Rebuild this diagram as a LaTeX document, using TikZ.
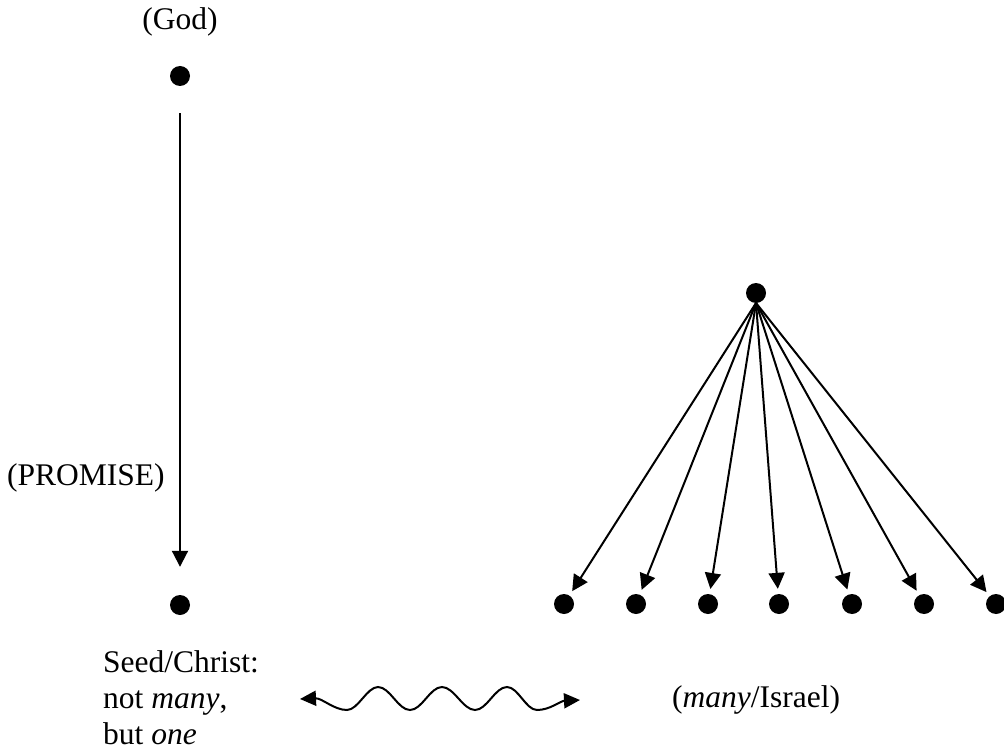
\documentclass[tikz,border=0pt]{standalone}
\usepackage{fontspec}
\setmainfont{Liberation Serif}
\usetikzlibrary{arrows.meta}
\begin{document}
\begin{tikzpicture}[x=1pt,y=-1pt,
  dot/.style={circle,fill=black,inner sep=0pt,minimum size=20pt},
  lbl/.style={inner sep=0pt,font=\fontsize{31.5}{36}\selectfont},
  arr/.style={line width=2pt,-{Triangle[length=16pt,width=16pt]}},
  wave/.style={line width=2pt,{Triangle[length=16pt,width=15pt]}-{Triangle[length=16pt,width=15pt]}}]
\useasboundingbox (0,0) rectangle (1004,754);

% the promise: a single line of descent
\node[lbl] (godlbl) at (180,22) {(God)};
\node[dot] (god) at (180,76) {};
\node[dot] (seed) at (180,605) {};
\node[lbl,anchor=west] (promise) at (7,478) {(PROMISE)};
\draw[arr,shorten <=27pt,shorten >=28pt] (god) -- (seed);
\node[lbl,anchor=west,align=left] (seedlbl) at (103,698)
  {Seed/Christ:\\not \textit{many},\\but \textit{one}};

% the many descendants
\node[dot] (root) at (756,293) {};
\coordinate (apex) at (756,303);
\foreach \i/\x in {1/564,2/636,3/708,4/779,5/852,6/924,7/996}{
  \node[dot] (d\i) at (\x,604) {};
  \draw[arr,shorten >=5pt] (apex) -- (d\i);
}
\node[lbl,anchor=west] (many) at (672,700) {(\textit{many}/Israel)};

% contrast between one and many
\coordinate (wl) at (300,699);
\coordinate (wr) at (580,700);
\draw[wave] (wl) .. controls (322,698) and (334,710) .. (347,710)
  .. controls (358,710) and (367,687) .. (378,687)
  .. controls (390,687) and (398,710) .. (410,710)
  .. controls (422,710) and (430,687) .. (442,687)
  .. controls (454,687) and (463,710) .. (475,710)
  .. controls (487,710) and (495,687) .. (507,687)
  .. controls (518,687) and (526,710) .. (537,710)
  .. controls (550,710) and (560,701) .. (wr);
\end{tikzpicture}
\end{document}
